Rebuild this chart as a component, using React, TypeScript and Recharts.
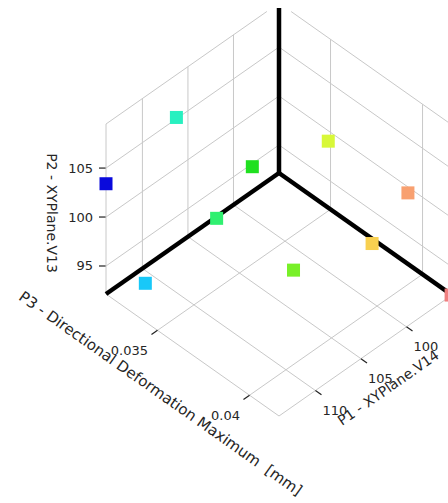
import React from 'react';
import { ScatterChart, Scatter, XAxis, YAxis, ReferenceLine, Customized } from 'recharts';

// ---- data (design points) ----
const P1_XYPLANE_V14 = [114.0, 111.5, 109.3, 106.7, 104.6, 102.3, 100.1, 96.5, 96.0, 95.1];
const P2_XYPLANE_V13 = [103.4, 92.8, 109.1, 98.3, 103.4, 92.8, 105.6, 93.6, 100.7, 92.2];
const P3_DEFORMATION = [0.0322, 0.0331, 0.0337, 0.0346, 0.0355, 0.0366, 0.0374, 0.038, 0.0397, 0.0416];

const P1_TICKS = [100, 105, 110];
const P2_TICKS = [95, 100, 105];
const P3_TICKS = [0.035, 0.04];
const P3_TICK_LABELS = ['0.035', '0.04'];

const P1_DOMAIN: [number, number] = [95, 114];
const P2_DOMAIN: [number, number] = [92.14, 109.5];
const P3_DOMAIN: [number, number] = [0.0322, 0.0416];

// ---- styling ----
const POINT_COLORS = ['#0a0adc', '#18c8f8', '#28f0c0', '#30f070', '#20e020', '#78f028', '#d8f838', '#f8d050', '#f8a070', '#f08080'];
const FONT = 'DejaVu Sans';
const TEXT = '#262626';
const GRID = '#c8c8c8';

// ---- view (isometric-like projection) ----
const VIEW = { ox: 279, oy: 173, rx: 173, ry: 122, lx: -173, ly: 121, h: 170 };
const frac = (v: number, d: [number, number]) => (v - d[0]) / (d[1] - d[0]);
// a: P3 fraction, b: P1 fraction, c: P2 fraction
const project = (a: number, b: number, c: number) => ({
  x: VIEW.ox + a * VIEW.rx + b * VIEW.lx,
  y: VIEW.oy + a * VIEW.ry + b * VIEW.ly - c * VIEW.h,
});

const points = P1_XYPLANE_V14.map((p1, i) => {
  const pt = project(frac(P3_DEFORMATION[i], P3_DOMAIN), frac(p1, P1_DOMAIN), frac(P2_XYPLANE_V13[i], P2_DOMAIN));
  return { ...pt, idx: i, p1, p2: P2_XYPLANE_V13[i], p3: P3_DEFORMATION[i] };
});

type Seg = [[number, number, number], [number, number, number]];
const gridSegs: Seg[] = [];
const p1f = P1_TICKS.map((t) => frac(t, P1_DOMAIN));
const p2f = P2_TICKS.map((t) => frac(t, P2_DOMAIN));
const p3f = P3_TICKS.map((t) => frac(t, P3_DOMAIN));
// floor
p3f.forEach((t) => gridSegs.push([[t, 0, 0], [t, 1, 0]]));
p1f.forEach((s) => gridSegs.push([[0, s, 0], [1, s, 0]]));
gridSegs.push([[1, 0, 0], [1, 1, 0]]);
gridSegs.push([[0, 1, 0], [1, 1, 0]]);
// left wall (P3 min)
p1f.forEach((s) => gridSegs.push([[0, s, 0], [0, s, 1]]));
p2f.forEach((h) => gridSegs.push([[0, 0, h], [0, 1, h]]));
gridSegs.push([[0, 1, 0], [0, 1, 1]]);
gridSegs.push([[0, 0.07, 1], [0, 1, 1]]);
// right wall (P1 min)
p3f.forEach((t) => gridSegs.push([[t, 0, 0], [t, 0, 1]]));
p2f.forEach((h) => gridSegs.push([[0, 0, h], [1, 0, h]]));
gridSegs.push([[1, 0, 0], [1, 0, 1]]);
gridSegs.push([[0.07, 0, 1], [1, 0, 1]]);

const axisSegs: Seg[] = [
  [[0, 0, 0], [0, 0, 0.97]],
  [[0, 0, 0], [0, 1, 0]],
  [[0, 0, 0], [1, 0, 0]],
];

const tickSegs: Seg[] = [
  ...p3f.map((t) => [[t, 1, 0], [t, 1.035, 0]] as Seg),
  ...p1f.map((s) => [[1, s, 0], [1.035, s, 0]] as Seg),
];

const toSeg = (s: Seg) => s.map(([a, b, c]) => project(a, b, c));

const Square = (props: any) => {
  const { cx, cy, payload } = props;
  const s = 13;
  return <rect x={cx - s / 2} y={cy - s / 2} width={s} height={s} fill={POINT_COLORS[payload.idx]} />;
};

const Labels = () => {
  const leftEdge = p2f.map((h) => project(0, 1, h));
  const p3t = p3f.map((t) => project(t, 1, 0));
  const p1t = p1f.map((s) => project(1, s, 0));
  const angR = (Math.atan2(VIEW.ry, VIEW.rx) * 180) / Math.PI;
  const angL = (Math.atan2(-VIEW.ly, -VIEW.lx) * 180) / Math.PI;
  return (
    <g fontFamily={FONT} fill={TEXT}>
      {leftEdge.map((p, i) => (
        <g key={'p2' + i}>
          <line x1={p.x - 7} y1={p.y} x2={p.x} y2={p.y} stroke="#222" strokeWidth={1.2} />
          <text x={p.x - 13} y={p.y} textAnchor="end" dominantBaseline="central" fontSize={13}>
            {P2_TICKS[i]}
          </text>
        </g>
      ))}
      {p3t.map((p, i) => (
        <text key={'p3' + i} x={p.x - 9.5} y={p.y + 20} textAnchor="end" dominantBaseline="central" fontSize={13}>
          {P3_TICK_LABELS[i]}
        </text>
      ))}
      {p1t.map((p, i) => (
        <text key={'p1' + i} x={p.x + 7} y={p.y + 20} textAnchor="start" dominantBaseline="central" fontSize={13}>
          {P1_TICKS[i]}
        </text>
      ))}
      <text x={52} y={213} transform="rotate(90 52 213)" textAnchor="middle" dominantBaseline="central" fontSize={14}>
        P2 - XYPlane.V13
      </text>
      <text
        x={160.5}
        y={393.5}
        transform={`rotate(${angR} 160.5 393.5)`}
        textAnchor="middle"
        dominantBaseline="central"
        fontSize={15}
        style={{ whiteSpace: 'pre' }}
      >
        {'P3 - Directional Deformation Maximum  [mm]'}
      </text>
      <text x={342} y={426} transform={`rotate(${angL} 342 426)`} textAnchor="start" fontSize={14}>
        P1 - XYPlane.V14
      </text>
    </g>
  );
};

export default function App() {
  return (
    <div style={{ position: 'absolute', left: 0, top: 0, width: 448, height: 503, background: '#fff', overflow: 'hidden' }}>
      <ScatterChart width={448} height={503} margin={{ top: 0, right: 0, bottom: 0, left: 0 }}>
        <XAxis type="number" dataKey="x" domain={[0, 448]} hide allowDataOverflow />
        <YAxis type="number" dataKey="y" domain={[0, 503]} reversed hide allowDataOverflow />
        {gridSegs.map((s, i) => (
          <ReferenceLine key={'g' + i} segment={toSeg(s)} stroke={GRID} strokeWidth={1} ifOverflow="visible" />
        ))}
        {tickSegs.map((s, i) => (
          <ReferenceLine key={'t' + i} segment={toSeg(s)} stroke="#222" strokeWidth={1.2} ifOverflow="visible" />
        ))}
        {axisSegs.map((s, i) => (
          <ReferenceLine key={'a' + i} segment={toSeg(s)} stroke="#000" strokeWidth={4.5} ifOverflow="visible" />
        ))}
        <Customized component={Labels} />
        <Scatter data={points} dataKey="y" shape={Square} isAnimationActive={false} />
      </ScatterChart>
    </div>
  );
}
